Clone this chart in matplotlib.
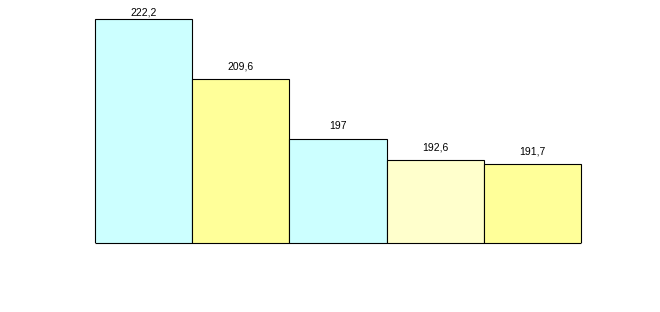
import matplotlib
matplotlib.use("Agg")
import matplotlib.pyplot as plt

# bar values, left to right
values = [222.2, 209.6, 197, 192.6, 191.7]
labels = ["222,2", "209,6", "197", "192,6", "191,7"]
colors = ["#CCFFFF", "#FFFF99", "#CCFFFF", "#FFFFCC", "#FFFF99"]

plt.rcParams['font.family'] = ['Liberation Sans', 'DejaVu Sans']

fig = plt.figure(figsize=(6.6, 3.12), dpi=100)
# axes runs from the baseline up to the top of the figure,
# a couple of px wider than the bars so the side edges are not clipped
ax = fig.add_axes([93/660, 69/312, 490/660, 243/312])

x = range(len(values))
bars = ax.bar(x, values, width=1.0, color=colors, edgecolor="black",
              linewidth=0.8)

pad = 2 / 97.2
ax.set_xlim(-0.5 - pad, len(values) - 0.5 + pad)
ax.set_ylim(175.16, 226.19)
ax.axis("off")
# bottom edge of the bars
ax.hlines(175.16, -0.5, len(values) - 0.5, color="black", linewidth=0.8,
          clip_on=False)

######## value labels ########
for b, lab, v in zip(bars, labels, values):
    off = 1.0 if v == max(values) else 5.5
    ax.annotate(lab, (b.get_x() + b.get_width()/2, v), xytext=(0, off),
                textcoords="offset points", ha="center", va="bottom",
                fontsize=7.5, annotation_clip=False)

fig.savefig("out.png", dpi=100)
